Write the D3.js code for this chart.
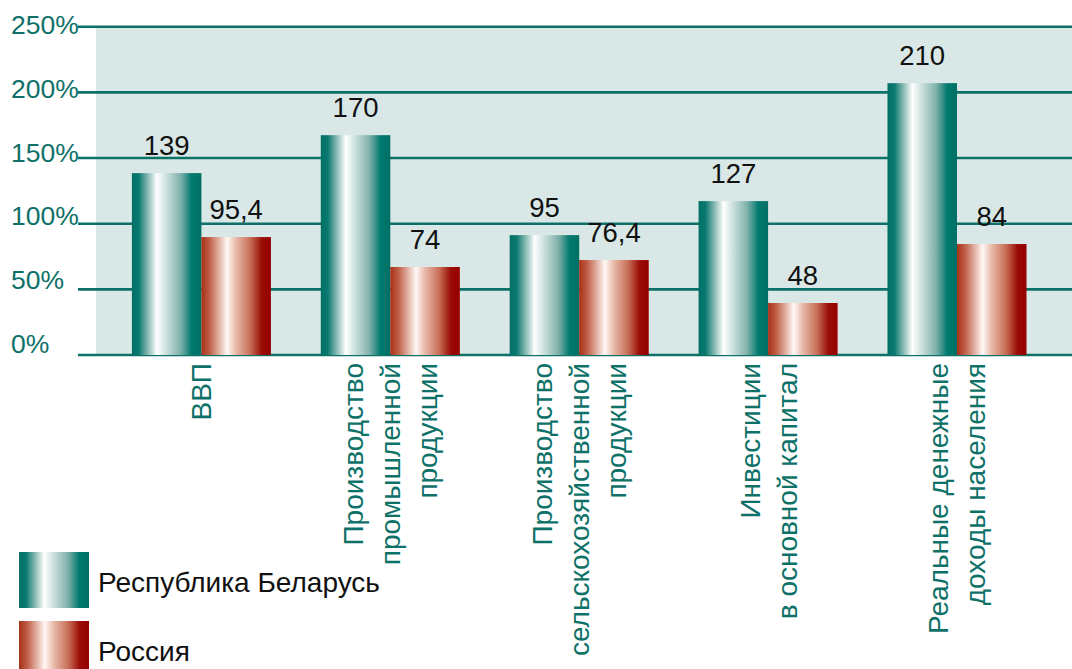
<!DOCTYPE html>
<html>
<head>
<meta charset="utf-8">
<script src="https://cdn.jsdelivr.net/npm/d3@7"></script>
<style>
  body { margin: 0; background: #fff; }
  text { font-family: "Liberation Sans", Arial, sans-serif; }
</style>
</head>
<body>
<svg class="grafico" width="1072" height="669"></svg>
<script>
/*DATOS*/
const categorias = ["ВВП", "Производство промышленной продукции", "Производство сельскохозяйственной продукции", "Инвестиции в основной капитал", "Реальные денежные доходы населения"]
const lineasCategorias = [
  ["ВВП"],
  ["Производство", "промышленной", "продукции"],
  ["Производство", "сельскохозяйственной", "продукции"],
  ["Инвестиции", "в основной капитал"],
  ["Реальные денежные", "доходы населения"]
]
const series = ["Республика Беларусь", "Россия"]
const valoresBelarus = [138.5, 167.4, 91.3, 117.2, 207]   /*altura de barras*/
const valoresRusia = [89.8, 67, 72.3, 39.6, 84.5]
const etiquetasBelarus = ["139", "170", "95", "127", "210"]
const etiquetasRusia = ["95,4", "74", "76,4", "48", "84"]
const marcasY = [0, 50, 100, 150, 200, 250]

const verde = "#0d7168"

const svg = d3.select('.grafico')

/*GRADIENTES*/
const defs = svg.append('defs')
const gradientes = [
  {id: 'g0', stops: [[0, '#006f65'], [0.1, '#0a7a70'], [0.22, '#7fb5ae'], [0.36, '#ffffff'], [0.5, '#c9dfdc'], [0.7, '#7fb0aa'], [0.86, '#007a6e'], [1, '#006f65']]},
  {id: 'g1', stops: [[0, '#a83018'], [0.12, '#c06048'], [0.37, '#fff8f4'], [0.5, '#e8b8a8'], [0.7, '#c87058'], [0.87, '#9a0c06'], [1, '#950000']]}
]
gradientes.forEach(g => {
  defs.append('linearGradient').attr('id', g.id)
    .selectAll('stop').data(g.stops).join('stop')
    .attr('offset', d => d[0]).attr('stop-color', d => d[1])
})

/*ESCALAS*/
const y = d3.scaleLinear().domain([0, 250]).range([355, 26.7])
const x = d3.scaleBand().domain(categorias).range([131.9, 1026.5]).paddingInner(0.264).paddingOuter(0)
const xSerie = d3.scaleBand().domain(series).range([0, x.bandwidth()])

/*FONDO*/
svg.append('rect')
  .attr('x', 96).attr('y', y(250))
  .attr('width', 1072 - 96).attr('height', y(0) - y(250))
  .attr('fill', '#d9e8e6')

/*LINEAS DE CUADRICULA*/
svg.selectAll('.linea').data(marcasY).join('line')
  .attr('x1', 78).attr('x2', 1072)
  .attr('y1', d => y(d)).attr('y2', d => y(d))
  .attr('stroke', verde).attr('stroke-width', 2.6)

svg.selectAll('.marca').data(marcasY).join('text')
  .attr('x', 11).attr('y', d => y(d) - 2 + d / 50 * 1.86)
  .attr('fill', verde).attr('font-size', 26.5)
  .text(d => d + '%')

/*BARRAS*/
const filas = categorias.map((c, i) => [
  {cat: c, serie: series[0], v: valoresBelarus[i], t: etiquetasBelarus[i], g: 'g0'},
  {cat: c, serie: series[1], v: valoresRusia[i], t: etiquetasRusia[i], g: 'g1'}
]).flat()

svg.selectAll('.barra').data(filas).join('rect')
  .attr('x', d => x(d.cat) + xSerie(d.serie))
  .attr('y', d => y(d.v))
  .attr('width', xSerie.bandwidth())
  .attr('height', d => y(0) - y(d.v))
  .attr('fill', d => `url(#${d.g})`)

svg.selectAll('.valor').data(filas).join('text')
  .attr('x', d => x(d.cat) + xSerie(d.serie) + xSerie.bandwidth() / 2)
  .attr('y', d => y(d.v) - 18)
  .attr('text-anchor', 'middle').attr('font-size', 27.5).attr('fill', '#111')
  .text(d => d.t)

/*ETIQUETAS DE CATEGORIA*/
const grupos = svg.selectAll('.cat').data(categorias).join('g')
  .attr('transform', d => `translate(${x(d) + x.bandwidth() / 2},363) rotate(-90)`)

grupos.append('text')
  .attr('text-anchor', 'end').attr('font-size', 28).attr('fill', verde)
  .selectAll('tspan').data((d, i) => lineasCategorias[i].map((l, j, a) => ({l, off: (j - (a.length - 1) / 2) * 37 + 10})))
  .join('tspan')
  .attr('x', 0).attr('y', d => d.off)
  .text(d => d.l)

/*LEYENDA*/
const leyenda = svg.selectAll('.ley').data(series).join('g')
  .attr('transform', (d, i) => `translate(19,${552 + i * 69})`)
leyenda.append('rect')
  .attr('width', 70).attr('height', 56)
  .attr('fill', (d, i) => `url(#g${i})`)
leyenda.append('text')
  .attr('x', 79).attr('y', 40)
  .attr('font-size', 28).attr('fill', '#111')
  .text(d => d)
</script>
</body>
</html>
